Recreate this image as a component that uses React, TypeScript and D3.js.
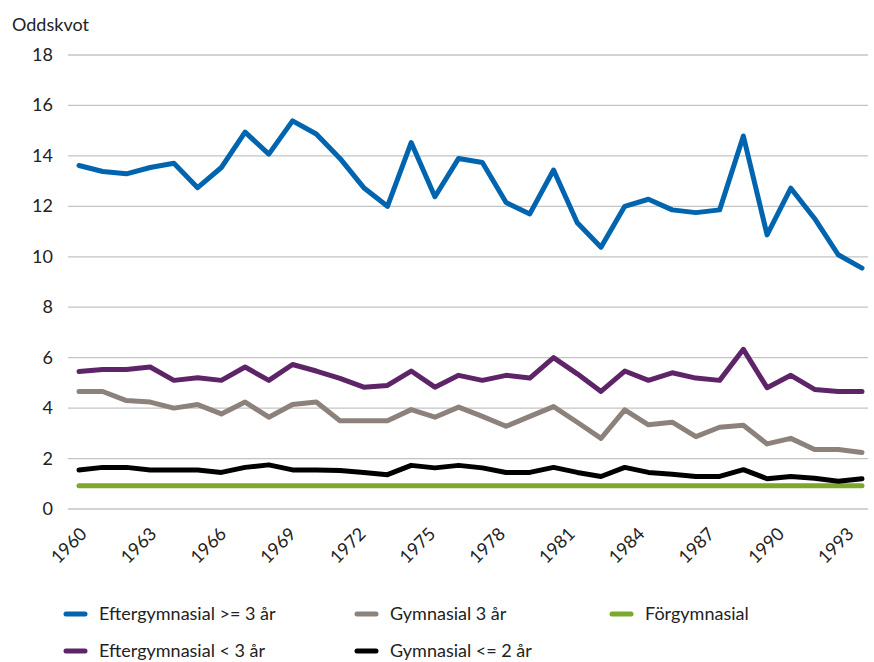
import React from 'react';
import { scaleLinear, line } from 'd3';

const years = [...Array(34)].map((d, i) => 1960 + i);
const tickYears = [1960, 1963, 1966, 1969, 1972, 1975, 1978, 1981, 1984, 1987, 1990, 1993];
const yTicks = [0, 2, 4, 6, 8, 10, 12, 14, 16, 18];

const eftergymnasial3 = [13.62, 13.38, 13.29, 13.54, 13.71, 12.74, 13.54, 14.94, 14.07, 15.39, 14.87,
  13.9, 12.74, 12.0, 14.53, 12.38, 13.9, 13.74, 12.15, 11.7, 13.44, 11.35, 10.38,
  12.0, 12.28, 11.86, 11.75, 11.86, 14.79, 10.87, 12.72, 11.52, 10.08, 9.55];
const eftergymnasialLt3 = [5.45, 5.53, 5.53, 5.63, 5.1, 5.2, 5.1, 5.63, 5.1, 5.73, 5.47,
  5.18, 4.83, 4.9, 5.47, 4.83, 5.3, 5.1, 5.3, 5.19, 6.0, 5.36, 4.66,
  5.47, 5.1, 5.4, 5.19, 5.1, 6.33, 4.81, 5.3, 4.74, 4.66, 4.66];
const gymnasial3 = [4.66, 4.66, 4.3, 4.24, 4.0, 4.14, 3.77, 4.24, 3.64, 4.14, 4.24,
  3.5, 3.5, 3.5, 3.94, 3.64, 4.04, 3.67, 3.28, 3.67, 4.06, 3.44, 2.8,
  3.93, 3.34, 3.44, 2.87, 3.24, 3.32, 2.58, 2.8, 2.36, 2.36, 2.24];
const gymnasialLe2 = [1.55, 1.65, 1.65, 1.55, 1.55, 1.55, 1.45, 1.65, 1.75, 1.55, 1.55,
  1.53, 1.45, 1.36, 1.73, 1.63, 1.73, 1.63, 1.45, 1.45, 1.65, 1.45, 1.29,
  1.65, 1.45, 1.38, 1.29, 1.29, 1.56, 1.2, 1.29, 1.22, 1.1, 1.2];
const forgymnasial = years.map(() => 0.92);

const series = [
  { name: 'Gymnasial 3 år', color: '#8c817b', values: gymnasial3 },
  { name: 'Förgymnasial', color: '#7ba82f', values: forgymnasial },
  { name: 'Gymnasial <= 2 år', color: '#000000', values: gymnasialLe2 },
  { name: 'Eftergymnasial < 3 år', color: '#5e2468', values: eftergymnasialLt3 },
  { name: 'Eftergymnasial >= 3 år', color: '#0064ae', values: eftergymnasial3 },
];

const legendItems = [
  { name: 'Eftergymnasial >= 3 år', color: '#0064ae', col: 0, row: 0 },
  { name: 'Gymnasial 3 år', color: '#8c817b', col: 1, row: 0 },
  { name: 'Förgymnasial', color: '#7ba82f', col: 2, row: 0 },
  { name: 'Eftergymnasial < 3 år', color: '#5e2468', col: 0, row: 1 },
  { name: 'Gymnasial <= 2 år', color: '#000000', col: 1, row: 1 },
];

export default function App() {
  const width = 874, height = 662;
  const font = 'Lato, "Open Sans", sans-serif';

  const xScale = scaleLinear().domain([1960, 1993]).range([79, 862]);
  // rotated labels sit a bit off the points, like the source
  const labelScale = scaleLinear().domain([1960, 1993]).range([93, 860]);
  const yScale = scaleLinear().domain([0, 18]).range([509, 55]);

  const path = line<number>().x((d, i) => xScale(years[i])).y((d) => yScale(d));

  const legendX = [66, 357, 612];
  const legendY = [614, 651];

  return (
    <div style={{ position: 'absolute', left: 0, top: 0 }}>
      <svg width={width} height={height} style={{ display: 'block', background: '#fff' }}>
        <text x={12} y={31} fontFamily={font} fontSize={18} fill="#222">Oddskvot</text>
        {yTicks.map((t) => (
          <g key={'y' + t}>
            <line x1={68} x2={868} y1={yScale(t)} y2={yScale(t)} stroke="#c4c4c4" strokeWidth={1.3} />
            <text x={53} y={yScale(t) + 6} textAnchor="end" fontFamily={font} fontSize={18} fill="#222">{t}</text>
          </g>
        ))}
        {tickYears.map((yr) => (
          <text key={'x' + yr}
            transform={`translate(${labelScale(yr) - 5},${535}) rotate(-45)`}
            textAnchor="end" fontFamily={font} fontSize={18} fill="#222">{yr}</text>
        ))}
        {series.map((s) => (
          <path key={s.name} d={path(s.values) || ''} fill="none" stroke={s.color}
            strokeWidth={5} strokeLinejoin="round" strokeLinecap="round" />
        ))}
        {legendItems.map((l) => (
          <g key={'l' + l.name}>
            <line x1={legendX[l.col]} x2={legendX[l.col] + 19} y1={legendY[l.row]} y2={legendY[l.row]}
              stroke={l.color} strokeWidth={5} strokeLinecap="round" />
            <text x={legendX[l.col] + 33} y={legendY[l.row] + 6} fontFamily={font} fontSize={18} fill="#222">{l.name}</text>
          </g>
        ))}
      </svg>
    </div>
  );
}
